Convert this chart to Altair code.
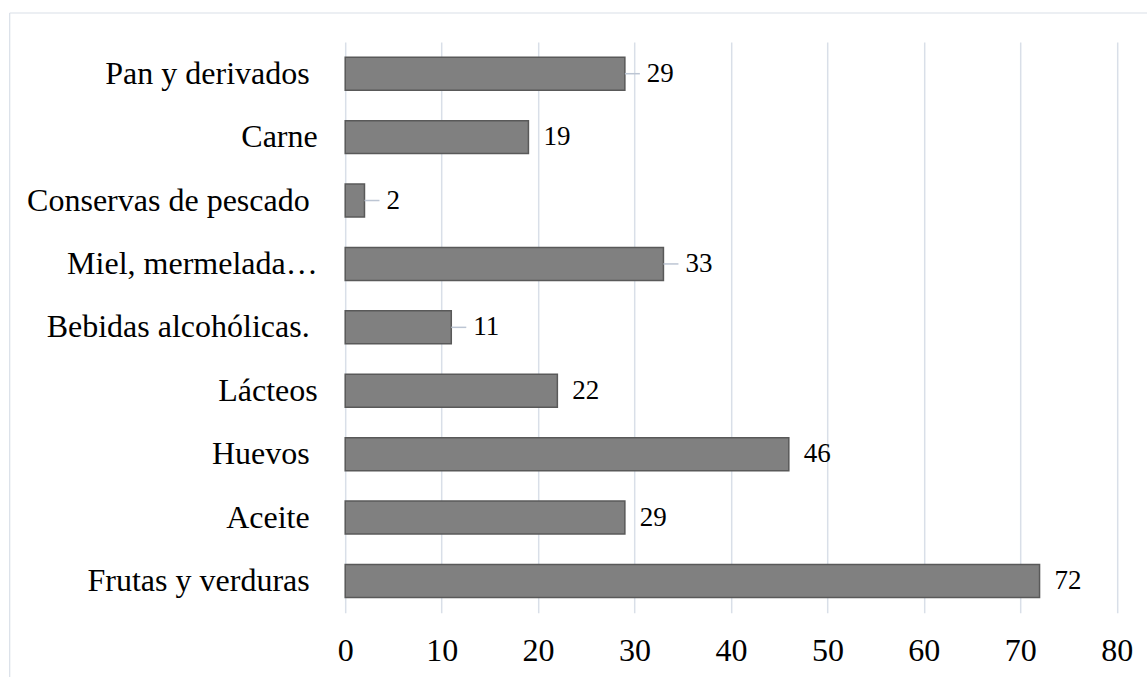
import altair as alt
import pandas as pd

# Food categories (top to bottom) and their counts; some names keep a
# trailing space (held in place by a zero-width character)
TS = "\u00a0\u200b"
categories = [
    "Pan y derivados" + TS,
    "Carne",
    "Conservas de pescado" + TS,
    "Miel, mermelada…",
    "Bebidas alcohólicas." + TS,
    "Lácteos",
    "Huevos" + TS,
    "Aceite" + TS,
    "Frutas y verduras" + TS,
]
values = [29, 19, 2, 33, 11, 22, 46, 29, 72]
# labels that are pulled out with a short leader line
leader = [True, False, True, True, True, False, False, False, False]
x_ticks = [0, 10, 20, 30, 40, 50, 60, 70, 80]

df = pd.DataFrame({"cat": categories, "val": values, "leader": leader})

FONT = "Liberation Serif"
GRID = "#D9DFE8"

W, H = 771.5, 570.7

y_enc = alt.Y(
    "cat:N",
    sort=categories,
    scale=alt.Scale(paddingInner=0.48, paddingOuter=0.24),
    axis=alt.Axis(
        title=None, ticks=False, domain=False, labelPadding=28,
        labelFont=FONT, labelFontSize=32, labelColor="black", labelLimit=400,
    ),
)
x_enc = alt.X(
    "val:Q",
    scale=alt.Scale(domain=[0, 80], nice=False),
    axis=alt.Axis(
        title=None, values=x_ticks, ticks=False, domain=False, labelPadding=23,
        labelFont=FONT, labelFontSize=32, labelColor="black", labelFlush=False,
        grid=True, gridColor=GRID, gridWidth=1.5,
    ),
)

base = alt.Chart(df)

bars = base.mark_bar(color="#808080", stroke="#595959", strokeWidth=1.5).encode(
    x=x_enc, y=y_enc
)

leaders = base.transform_filter("datum.leader").mark_rule(
    color="#BCC5D3", strokeWidth=1.5, x2Offset=15
).encode(
    x="val:Q", x2="val:Q", y=alt.Y("cat:N", sort=categories)
)

label_style = dict(align="left", baseline="middle", font=FONT, fontSize=27, color="black")

labels_plain = base.transform_filter("!datum.leader").mark_text(dx=15, **label_style).encode(
    x="val:Q", y=alt.Y("cat:N", sort=categories), text="val:Q"
)
labels_leader = base.transform_filter("datum.leader").mark_text(dx=22, **label_style).encode(
    x="val:Q", y=alt.Y("cat:N", sort=categories), text="val:Q"
)

# light frame around the chart area
frame_df = pd.DataFrame({"k": [0]})
frame_left = alt.Chart(frame_df).mark_rule(color=GRID, strokeWidth=1.2).encode(
    x=alt.value(-335.5), y=alt.value(-29), y2=alt.value(700)
)
frame_top = alt.Chart(frame_df).mark_rule(color=GRID, strokeWidth=1.2).encode(
    x=alt.value(-335.5), x2=alt.value(900), y=alt.value(-29)
)

chart = (
    alt.layer(frame_left, frame_top, bars, leaders, labels_plain, labels_leader)
    .properties(
        width=W,
        height=H,
        autosize=alt.AutoSizeParams(type="none"),
        padding={"left": 345.2, "top": 42, "right": 1147 - 345.2 - W, "bottom": 677 - 42 - H},
        background="white",
    )
    .configure_view(stroke=None)
)

chart.save("out.html", embed_options={"renderer": "svg", "actions": False})
